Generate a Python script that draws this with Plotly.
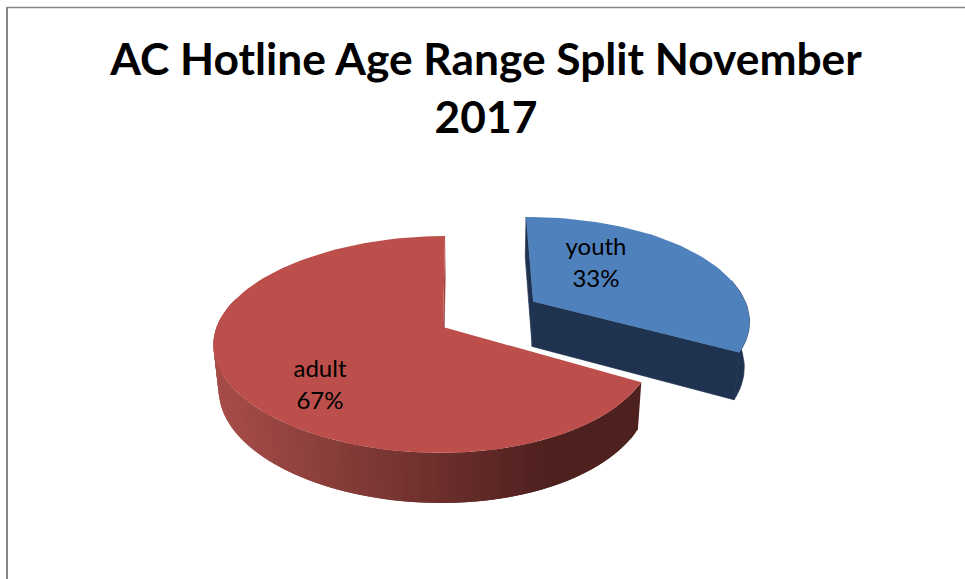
import numpy as np
import plotly.graph_objects as go

# Chart data
title_lines = ["AC Hotline Age Range Split November", "2017"]
categories = ["youth", "adult"]
shares = [33, 67]

# Page and projection settings (pixels)
W, H = 965, 579
VANISH_X = 480.0      # horizontal centre of the perspective
APEX_Y = 327.0        # screen height of the pie centre
RADIUS_X = 221.0
RADIUS_Y = 105.7
PERSPECTIVE = 0.161
DEPTH_SHRINK = 0.02
LENS = 0.04

# Per-slice placement in projection space: centre offset, radius scale, lean, wall depth
placement = {
    "youth": dict(x0=55.3, v0=0.25, scale=1.04, lean=0.0, depth=47.0),
    "adult": dict(x0=-37.0, v0=0.0, scale=0.985, lean=-3.6, depth=45.5),
}
top_colors = {"youth": "#4f81bd", "adult": "#bc4f4b"}
label_xy = {"youth": (596, 265), "adult": (320, 387)}


def project(theta, radius, place, d):
    """Map a polar point of the pie (clockwise from the back) to the page."""
    u = radius * np.sin(theta)
    rel_v = radius * np.cos(theta)
    v = rel_v + place["v0"]
    bent = (u - LENS * u * u) * place["scale"]
    w = 1 + PERSPECTIVE * v + DEPTH_SHRINK * d
    x = VANISH_X + (place["x0"] + RADIUS_X * bent + place["lean"] * rel_v) / w
    y = APEX_Y + (-RADIUS_Y * v + place["depth"] * d) / w
    return x, y


def mix(c1, c2, t):
    t = float(np.clip(t, 0, 1))
    return "rgb({},{},{})".format(*[round(a + (b - a) * t) for a, b in zip(c1, c2)])


def red_wall_color(x):
    # The red side darkens from left to right until it settles
    return mix((166, 76, 72), (78, 32, 30), (x - 218) / (545 - 218))


def polygon(xs, ys, color, edge=0):
    return go.Scatter(
        x=list(xs), y=list(ys), mode="lines", fill="toself", fillcolor=color,
        line=dict(color=color, width=edge),
        hoverinfo="skip", showlegend=False,
    )


fig = go.Figure()

# Sector angles follow the shares; youth starts at the back of the pie
total = sum(shares)
sweep = {c: 2 * np.pi * s / total for c, s in zip(categories, shares)}
sectors = {
    "youth": (0.0, sweep["youth"]),
    "adult": (sweep["youth"], sweep["youth"] + sweep["adult"]),
}
# Which straight cut faces can be seen from the viewpoint
visible_cuts = {"youth": [0.0, sweep["youth"]], "adult": [2 * np.pi]}
cut_colors = {"youth": "#1f3350", "adult": "#a04643"}

for name in ["adult", "youth"]:
    start, end = sectors[name]
    place = placement[name]
    thetas = np.linspace(start, end, int((end - start) / np.radians(2)) + 2)
    step = thetas[1] - thetas[0]

    # Outer wall, only the part of the rim facing the viewer
    front = thetas[np.cos(thetas) <= 0.25]
    if name == "youth":
        # Flat shade: one outline is enough, with a hairline to close the
        # seam where it meets the cut face
        xt, yt = project(front, 1, place, 0)
        xb, yb = project(front[::-1], 1, place, 1)
        fig.add_trace(polygon(np.concatenate([xt, xb, xt[:1]]),
                              np.concatenate([yt, yb, yt[:1]]),
                              cut_colors[name], edge=0.7))
    else:
        # Shaded bands, each overlapping its neighbour so no seams show
        for a in front[:-1]:
            b = min(a + 2 * step, end)
            xa, ya = project(a, 1, place, 0)
            xb, yb = project(b, 1, place, 0)
            xc, yc = project(b, 1, place, 1)
            xd, yd = project(a, 1, place, 1)
            fig.add_trace(polygon([xa, xb, xc, xd, xa], [ya, yb, yc, yd, ya],
                                  red_wall_color((xa + xb) / 2)))

    # Cut faces from the centre out to each end of the sector
    ax0, ay0 = project(0.0, 0, place, 0)
    ax1, ay1 = project(0.0, 0, place, 1)
    for edge in visible_cuts[name]:
        ex0, ey0 = project(edge, 1, place, 0)
        ex1, ey1 = project(edge, 1, place, 1)
        fig.add_trace(polygon([ax0, ex0, ex1, ax1, ax0], [ay0, ey0, ey1, ay1, ay0],
                              cut_colors[name], edge=0.7 if name == "youth" else 0))

    # Top face
    tx, ty = project(thetas, 1, place, 0)
    fig.add_trace(polygon(
        np.concatenate([[ax0], tx, [ax0]]),
        np.concatenate([[ay0], ty, [ay0]]),
        top_colors[name],
    ))

# Slice labels
fig.add_trace(go.Scatter(
    x=[label_xy[c][0] for c in categories],
    y=[label_xy[c][1] for c in categories],
    mode="text",
    text=[f"{c}<br>{s}%" for c, s in zip(categories, shares)],
    textposition="middle center",
    textfont=dict(family="Lato", size=24, color="#000000"),
    hoverinfo="skip", showlegend=False,
))

fig.update_layout(
    width=W, height=H, autosize=False,
    margin=dict(l=0, r=0, t=0, b=0),
    paper_bgcolor="#ffffff", plot_bgcolor="#ffffff",
    showlegend=False,
    title=dict(
        text="<b>" + "<br>".join(title_lines) + "</b>",
        x=486 / W, xanchor="center", xref="paper",
        y=1 - 75 / H, yanchor="top", yref="container",
        font=dict(family="Lato", size=44.3, color="#000000"),
    ),
    xaxis=dict(range=[0, W], visible=False, fixedrange=True),
    yaxis=dict(range=[H, 0], visible=False, fixedrange=True),
    # Chart-area border along the top and left
    shapes=[
        dict(type="line", xref="x", yref="y", x0=6, x1=W, y0=7.5, y1=7.5,
             line=dict(color="#868686", width=1.5)),
        dict(type="line", xref="x", yref="y", x0=7, x1=7, y0=7, y1=H,
             line=dict(color="#868686", width=2)),
    ],
)

fig.write_html("out.html")
